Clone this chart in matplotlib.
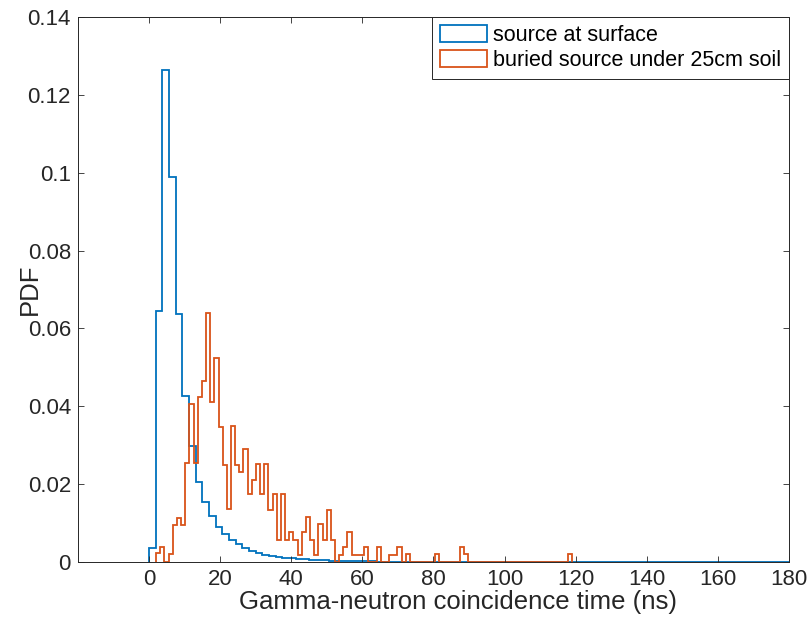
import matplotlib
matplotlib.use("Agg")
import matplotlib.pyplot as plt
import numpy as np
from matplotlib.patches import Rectangle

plt.rcParams["font.family"] = ["Liberation Sans", "DejaVu Sans"]

# blue: 100 bins of 1.875 ns starting at 0
surface_start = 0.0
surface_width = 1.875
surface_pdf = [
    0.0035, 0.0645, 0.1265, 0.0990, 0.0637, 0.0427, 0.0299, 0.0206, 0.0155, 0.0118,
    0.0091, 0.0071, 0.0057, 0.0045, 0.0035, 0.0029, 0.0022, 0.0019, 0.0016, 0.0013,
    0.0011, 0.0009, 0.0008, 0.0007, 0.0006, 0.0005, 0.0004, 0.00035, 0.0003, 0.00025,
    0.0002, 0.00018, 0.00016, 0.00014, 0.00012, 0.00011, 0.0001, 0.00009, 0.00008, 0.00007,
    0.00006, 0.00006, 0.00005, 0.00005, 0.00004, 0.00004, 0.00004, 0.00003, 0.00003, 0.00003,
    0.00003, 0.00002, 0.00002, 0.00002, 0.00002, 0.00002, 0.00002, 0.00001, 0.00001, 0.00001,
    0.00001, 0.00001, 0.00001, 0.00001, 0.00001, 0.00001, 0.00001, 0.00001, 0.00001, 0.00001,
    0.00001, 0.00001, 0.00001, 0.00001, 0.00001, 0.00001, 0.00001, 0.00001, 0.00001, 0.00001,
    0.00001, 0.00001, 0.00001, 0.00001, 0.00001, 0.00001, 0.00001, 0.00001, 0.00001, 0.00001,
    0.00001, 0.00001, 0.00001, 0.00001, 0.00001, 0.00001, 0.00001, 0.00001, 0.00001, 0.00001,
]

# orange: 100 bins of 1.17 ns starting at 2.0
buried_start = 2.0
buried_width = 1.17
buried_pdf = [
    0.0022, 0.0039, 0.0, 0.0020, 0.0094, 0.0114, 0.0094, 0.0254, 0.0406, 0.0254,
    0.0425, 0.0466, 0.0640, 0.0412, 0.0523, 0.0348, 0.0249, 0.0135, 0.0349, 0.0249,
    0.0230, 0.0290, 0.0175, 0.0210, 0.0253, 0.0174, 0.0253, 0.0134, 0.0174, 0.0057,
    0.0174, 0.0057, 0.0076, 0.0057, 0.0018, 0.0076, 0.0116, 0.0057, 0.0018, 0.0098,
    0.0056, 0.0134, 0.0056, 0.0, 0.0018, 0.0038, 0.0078, 0.0018, 0.0018, 0.0018,
    0.0038, 0.0, 0.0, 0.0038, 0.0, 0.0, 0.0018, 0.0018, 0.0039, 0.0,
    0.0020, 0.0, 0.0, 0.0, 0.0, 0.0, 0.0, 0.0020, 0.0, 0.0,
    0.0, 0.0, 0.0, 0.0039, 0.0020, 0.0, 0.0, 0.0, 0.0, 0.0,
    0.0, 0.0, 0.0, 0.0, 0.0, 0.0, 0.0, 0.0, 0.0, 0.0,
    0.0, 0.0, 0.0, 0.0, 0.0, 0.0, 0.0, 0.0, 0.0, 0.0020,
]

series_labels = ["source at surface", "buried source under 25cm soil"]
x_ticks = [0, 20, 40, 60, 80, 100, 120, 140, 160, 180]
y_ticks = [0, 0.02, 0.04, 0.06, 0.08, 0.1, 0.12, 0.14]
y_tick_labels = ["0", "0.02", "0.04", "0.06", "0.08", "0.1", "0.12", "0.14"]

blue = "#0072BD"
orange = "#D95319"
axis_grey = "#262626"

fig = plt.figure(figsize=(8.11, 6.35), dpi=100)
ax = fig.add_axes([0.096, 0.115, 0.877, 0.858])

surface_edges = surface_start + surface_width * np.arange(len(surface_pdf) + 1)
buried_edges = buried_start + buried_width * np.arange(len(buried_pdf) + 1)
ax.stairs(surface_pdf, surface_edges, color=blue, linewidth=1.3)
ax.stairs(buried_pdf, buried_edges, color=orange, linewidth=1.3)

ax.set_xlim(-20, 180)
ax.set_ylim(0, 0.14)
ax.set_xticks(x_ticks)
ax.set_yticks(y_ticks)
ax.set_yticklabels(y_tick_labels)
ax.tick_params(direction="in", length=4, width=0.6, colors=axis_grey,
               labelsize=16, top=True, right=True, pad=5)
for spine in ax.spines.values():
    spine.set_color(axis_grey)
    spine.set_linewidth(0.7)

ax.set_xlabel("Gamma-neutron coincidence time (ns)", fontsize=18.5,
              color=axis_grey)
ax.set_ylabel("PDF", fontsize=18.5, color=axis_grey)
ax.xaxis.set_label_coords(0.534, -0.052)
ax.yaxis.set_label_coords(-0.05, 0.5)

handles = [
    Rectangle((0, 0), 1, 1, facecolor="white", edgecolor=blue, linewidth=1.3),
    Rectangle((0, 0), 1, 1, facecolor="white", edgecolor=orange, linewidth=1.3),
]
legend = ax.legend(handles, series_labels, loc="upper right", borderaxespad=0,
                   fontsize=15.5, fancybox=False, framealpha=1,
                   edgecolor=axis_grey, handlelength=2.2, handleheight=0.85,
                   handletextpad=0.3, borderpad=0.35, labelspacing=0.2)
legend.get_frame().set_linewidth(0.7)

fig.savefig("out.png", dpi=100)
